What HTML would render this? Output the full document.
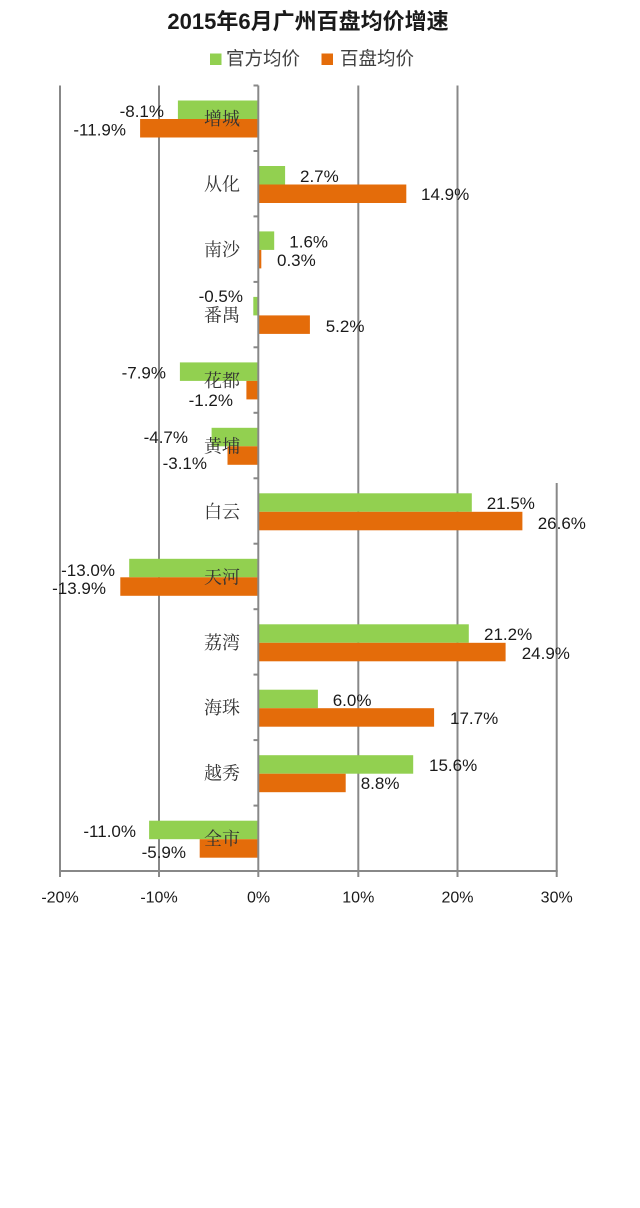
<!DOCTYPE html>
<html>
<head>
<meta charset="utf-8">
<style>
html,body{margin:0;padding:0;background:#fff;}
svg{display:block;}
.dl{font-family:"Liberation Sans","Noto Sans CJK SC",sans-serif;font-size:17px;fill:#1a1a1a;}
.cat{font-family:"Liberation Serif","Noto Serif CJK SC",serif;font-size:18px;fill:#333;}
.ax{font-family:"Liberation Sans",sans-serif;font-size:16px;fill:#1a1a1a;}
</style>
</head>
<body>
<svg width="640" height="1208" viewBox="0 0 640 1208" xmlns="http://www.w3.org/2000/svg">
<rect width="640" height="1208" fill="#fff"/>
<!-- title -->
<text x="308" y="29" text-anchor="middle" style="font-family:'Liberation Sans','Noto Sans CJK SC',sans-serif;font-size:22px;font-weight:bold;fill:#1a1a1a;">2015年6月广州百盘均价增速</text>
<!-- legend -->
<rect x="210" y="53.5" width="11.5" height="11.5" fill="#92D050"/>
<text x="226" y="65" style="font-family:'Liberation Sans','Noto Sans CJK SC',sans-serif;font-size:18.5px;fill:#404040;">官方均价</text>
<rect x="321.5" y="53.5" width="11.5" height="11.5" fill="#E46C0A"/>
<text x="340" y="65" style="font-family:'Liberation Sans','Noto Sans CJK SC',sans-serif;font-size:18.5px;fill:#404040;">百盘均价</text>

<!-- gridlines -->
<g stroke="#888" stroke-width="2">
<line x1="60" y1="85.5" x2="60" y2="871"/>
<line x1="159" y1="85.5" x2="159" y2="871"/>
<line x1="358.3" y1="85.5" x2="358.3" y2="871"/>
<line x1="457.5" y1="85.5" x2="457.5" y2="871"/>
<line x1="556.7" y1="483" x2="556.7" y2="871"/>
</g>

<!-- bars: x0 = 258.3, 9.93 px per % ; rowTop = 85.5 + 65.46*i -->
<g>
<!-- 0 增城 -8.1 / -11.9 -->
<rect x="177.9" y="100.5" width="80.4" height="18.5" fill="#92D050"/>
<rect x="140.1" y="119" width="118.2" height="18.5" fill="#E46C0A"/>
<!-- 1 从化 2.7 / 14.9 -->
<rect x="258.3" y="166" width="26.8" height="18.5" fill="#92D050"/>
<rect x="258.3" y="184.5" width="148" height="18.5" fill="#E46C0A"/>
<!-- 2 南沙 1.6 / 0.3 -->
<rect x="258.3" y="231.4" width="15.9" height="18.5" fill="#92D050"/>
<rect x="258.3" y="249.9" width="3" height="18.5" fill="#E46C0A"/>
<!-- 3 番禺 -0.5 / 5.2 -->
<rect x="253.3" y="296.9" width="5" height="18.5" fill="#92D050"/>
<rect x="258.3" y="315.4" width="51.6" height="18.5" fill="#E46C0A"/>
<!-- 4 花都 -7.9 / -1.2 -->
<rect x="179.9" y="362.4" width="78.4" height="18.5" fill="#92D050"/>
<rect x="246.4" y="380.9" width="11.9" height="18.5" fill="#E46C0A"/>
<!-- 5 黄埔 -4.7 / -3.1 -->
<rect x="211.6" y="427.8" width="46.7" height="18.5" fill="#92D050"/>
<rect x="227.5" y="446.3" width="30.8" height="18.5" fill="#E46C0A"/>
<!-- 6 白云 21.5 / 26.6 -->
<rect x="258.3" y="493.3" width="213.5" height="18.5" fill="#92D050"/>
<rect x="258.3" y="511.8" width="264.1" height="18.5" fill="#E46C0A"/>
<!-- 7 天河 -13.0 / -13.9 -->
<rect x="129.2" y="558.8" width="129.1" height="18.5" fill="#92D050"/>
<rect x="120.3" y="577.3" width="138" height="18.5" fill="#E46C0A"/>
<!-- 8 荔湾 21.2 / 24.9 -->
<rect x="258.3" y="624.3" width="210.5" height="18.5" fill="#92D050"/>
<rect x="258.3" y="642.8" width="247.3" height="18.5" fill="#E46C0A"/>
<!-- 9 海珠 6.0 / 17.7 -->
<rect x="258.3" y="689.7" width="59.6" height="18.5" fill="#92D050"/>
<rect x="258.3" y="708.2" width="175.8" height="18.5" fill="#E46C0A"/>
<!-- 10 越秀 15.6 / 8.8 -->
<rect x="258.3" y="755.2" width="154.9" height="18.5" fill="#92D050"/>
<rect x="258.3" y="773.7" width="87.4" height="18.5" fill="#E46C0A"/>
<!-- 11 全市 -11.0 / -5.9 -->
<rect x="149.1" y="820.7" width="109.2" height="18.5" fill="#92D050"/>
<rect x="199.7" y="839.2" width="58.6" height="18.5" fill="#E46C0A"/>
</g>

<!-- vertical axis at 0 with ticks -->
<g stroke="#888" stroke-width="2">
<line x1="258.3" y1="85.5" x2="258.3" y2="871"/>
<line x1="253.5" y1="85.5" x2="258.3" y2="85.5"/>
<line x1="253.5" y1="151" x2="258.3" y2="151"/>
<line x1="253.5" y1="216.4" x2="258.3" y2="216.4"/>
<line x1="253.5" y1="281.9" x2="258.3" y2="281.9"/>
<line x1="253.5" y1="347.3" x2="258.3" y2="347.3"/>
<line x1="253.5" y1="412.8" x2="258.3" y2="412.8"/>
<line x1="253.5" y1="478.3" x2="258.3" y2="478.3"/>
<line x1="253.5" y1="543.7" x2="258.3" y2="543.7"/>
<line x1="253.5" y1="609.2" x2="258.3" y2="609.2"/>
<line x1="253.5" y1="674.6" x2="258.3" y2="674.6"/>
<line x1="253.5" y1="740.1" x2="258.3" y2="740.1"/>
<line x1="253.5" y1="805.6" x2="258.3" y2="805.6"/>
<!-- bottom axis -->
<line x1="59" y1="871" x2="557.7" y2="871"/>
<line x1="60" y1="871" x2="60" y2="877"/>
<line x1="159" y1="871" x2="159" y2="877"/>
<line x1="258.3" y1="871" x2="258.3" y2="877"/>
<line x1="358.3" y1="871" x2="358.3" y2="877"/>
<line x1="457.5" y1="871" x2="457.5" y2="877"/>
<line x1="556.7" y1="871" x2="556.7" y2="877"/>
</g>

<!-- category labels -->
<g class="cat" text-anchor="end">
<text x="240" y="125">增城</text>
<text x="240" y="190.5">从化</text>
<text x="240" y="256">南沙</text>
<text x="240" y="321.5">番禺</text>
<text x="240" y="387">花都</text>
<text x="240" y="452.4">黄埔</text>
<text x="240" y="517.9">白云</text>
<text x="240" y="583.3">天河</text>
<text x="240" y="648.8">荔湾</text>
<text x="240" y="714.2">海珠</text>
<text x="240" y="779.7">越秀</text>
<text x="240" y="845.2">全市</text>
</g>

<!-- data labels -->
<g class="dl">
<text x="164" y="117" text-anchor="end">-8.1%</text>
<text x="126" y="135.3" text-anchor="end">-11.9%</text>
<text x="300" y="182">2.7%</text>
<text x="421" y="200">14.9%</text>
<text x="289.3" y="247.7">1.6%</text>
<text x="277" y="266">0.3%</text>
<text x="243" y="302" text-anchor="end">-0.5%</text>
<text x="325.7" y="332">5.2%</text>
<text x="166" y="378.7" text-anchor="end">-7.9%</text>
<text x="233" y="406" text-anchor="end">-1.2%</text>
<text x="188" y="443" text-anchor="end">-4.7%</text>
<text x="207" y="469" text-anchor="end">-3.1%</text>
<text x="486.7" y="509">21.5%</text>
<text x="537.7" y="529">26.6%</text>
<text x="115" y="576" text-anchor="end">-13.0%</text>
<text x="106" y="594" text-anchor="end">-13.9%</text>
<text x="484" y="640">21.2%</text>
<text x="521.7" y="659">24.9%</text>
<text x="332.7" y="706">6.0%</text>
<text x="450" y="724">17.7%</text>
<text x="429" y="771">15.6%</text>
<text x="360.7" y="789">8.8%</text>
<text x="136" y="837" text-anchor="end">-11.0%</text>
<text x="186" y="858" text-anchor="end">-5.9%</text>
</g>

<!-- x axis labels -->
<g class="ax" text-anchor="middle">
<text x="60" y="902.5">-20%</text>
<text x="159" y="902.5">-10%</text>
<text x="258.5" y="902.5">0%</text>
<text x="358.3" y="902.5">10%</text>
<text x="457.5" y="902.5">20%</text>
<text x="556.7" y="902.5">30%</text>
</g>
</svg>
</body>
</html>
